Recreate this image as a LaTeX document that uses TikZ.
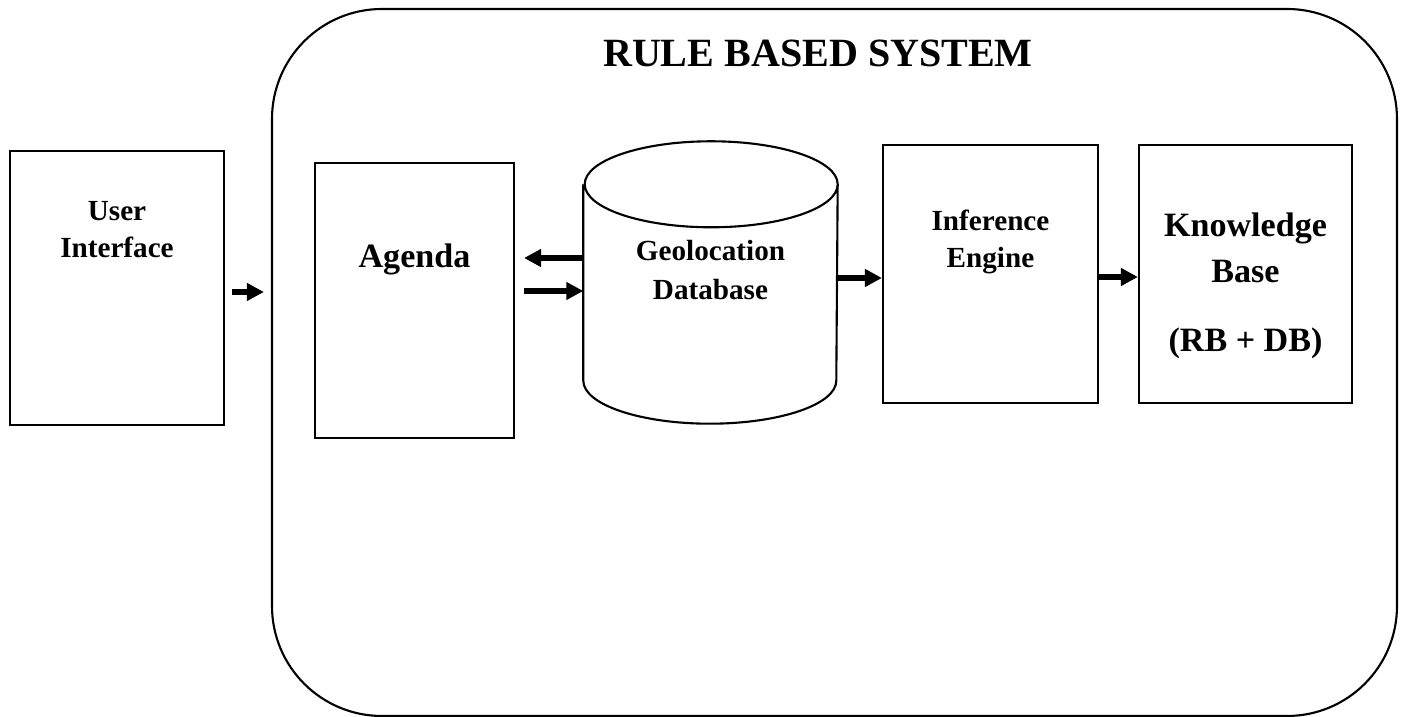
\documentclass[tikz,border=0pt]{standalone}
\usepackage{fontspec}
\setmainfont{Liberation Serif}
\usetikzlibrary{arrows.meta,positioning,calc}

\begin{document}
\begin{tikzpicture}[font=\bfseries,
      blk/.style={draw,line width=0.6pt,minimum width=2.14cm,minimum height=2.74cm},
      txt/.style={align=center,inner sep=0pt,anchor=base,
                  font=\fontsize{8.3}{10.8}\selectfont\bfseries},
      big/.style={txt,font=\fontsize{9.7}{13.1}\selectfont\bfseries},
      arr/.style={-{Triangle[length=0.17cm,width=0.17cm]},line width=0.065cm}]
    \useasboundingbox (0,0) rectangle (14.05,-7.17);

    \node[draw,line width=0.6pt,rounded corners=1.1cm,minimum width=11.25cm,
          minimum height=7.07cm] (sys) at (8.345,-3.625) {};
    \node[anchor=base,inner sep=0pt,font=\fontsize{11.4}{13}\selectfont\bfseries]
      (title) at (8.18,-0.67) {RULE BASED SYSTEM};

    \node[blk] (ui) at (1.17,-2.88) {};
    \node[blk,minimum width=1.99cm,minimum height=2.75cm] (agenda) at (4.145,-3.005) {};
    \node[blk,minimum width=2.15cm,minimum height=2.58cm] (inf) at (9.905,-2.74) {};
    \node[blk,minimum width=2.13cm,minimum height=2.58cm] (kb) at (12.455,-2.74) {};

    % database drum: body node, then the two caps
    \node[inner sep=0pt,minimum width=2.53cm,minimum height=1.95cm] (db) at (7.105,-2.825) {};
    \draw[line width=0.6pt] (db.north west) -- (db.south west)
      arc[start angle=180,end angle=360,x radius=1.265cm,y radius=0.43cm]
      -- (db.north east)
      arc[start angle=0,end angle=360,x radius=1.265cm,y radius=0.43cm];

    \node[txt] (uitxt) at (1.17,-2.58) {User\\Interface};
    \node[big] (agtxt) at (4.145,-2.68) {Agenda};
    \node[txt,font=\fontsize{8.3}{11.1}\selectfont\bfseries] (dbtxt) at (7.105,-3.00)
      {Geolocation\\Database};
    \node[txt] (inftxt) at (9.905,-2.68) {Inference\\Engine};
    \node[big] (kbtxt) at (12.455,-3.52) {Knowledge\\Base\\[6.8pt](RB + DB)};

    \draw[arr,shorten <=0.07cm,shorten >=0.07cm]
      ([yshift=-0.04cm]ui.east) -- ([yshift=-0.04cm]ui.east -| sys.west);
    \draw[arr,shorten >=0.09cm]
      ([yshift=0.245cm]db.west) -- ([yshift=0.245cm]db.west -| agenda.east);
    \draw[arr,shorten <=0.09cm]
      ([yshift=-0.085cm]db.west -| agenda.east) -- ([yshift=-0.085cm]db.west);
    \draw[arr] ([yshift=0.045cm]db.east) -- ([yshift=0.045cm]db.east -| inf.west);
    \draw[arr] ([yshift=-0.03cm]inf.east) -- ([yshift=-0.03cm]kb.west);
  \end{tikzpicture}
\end{document}
